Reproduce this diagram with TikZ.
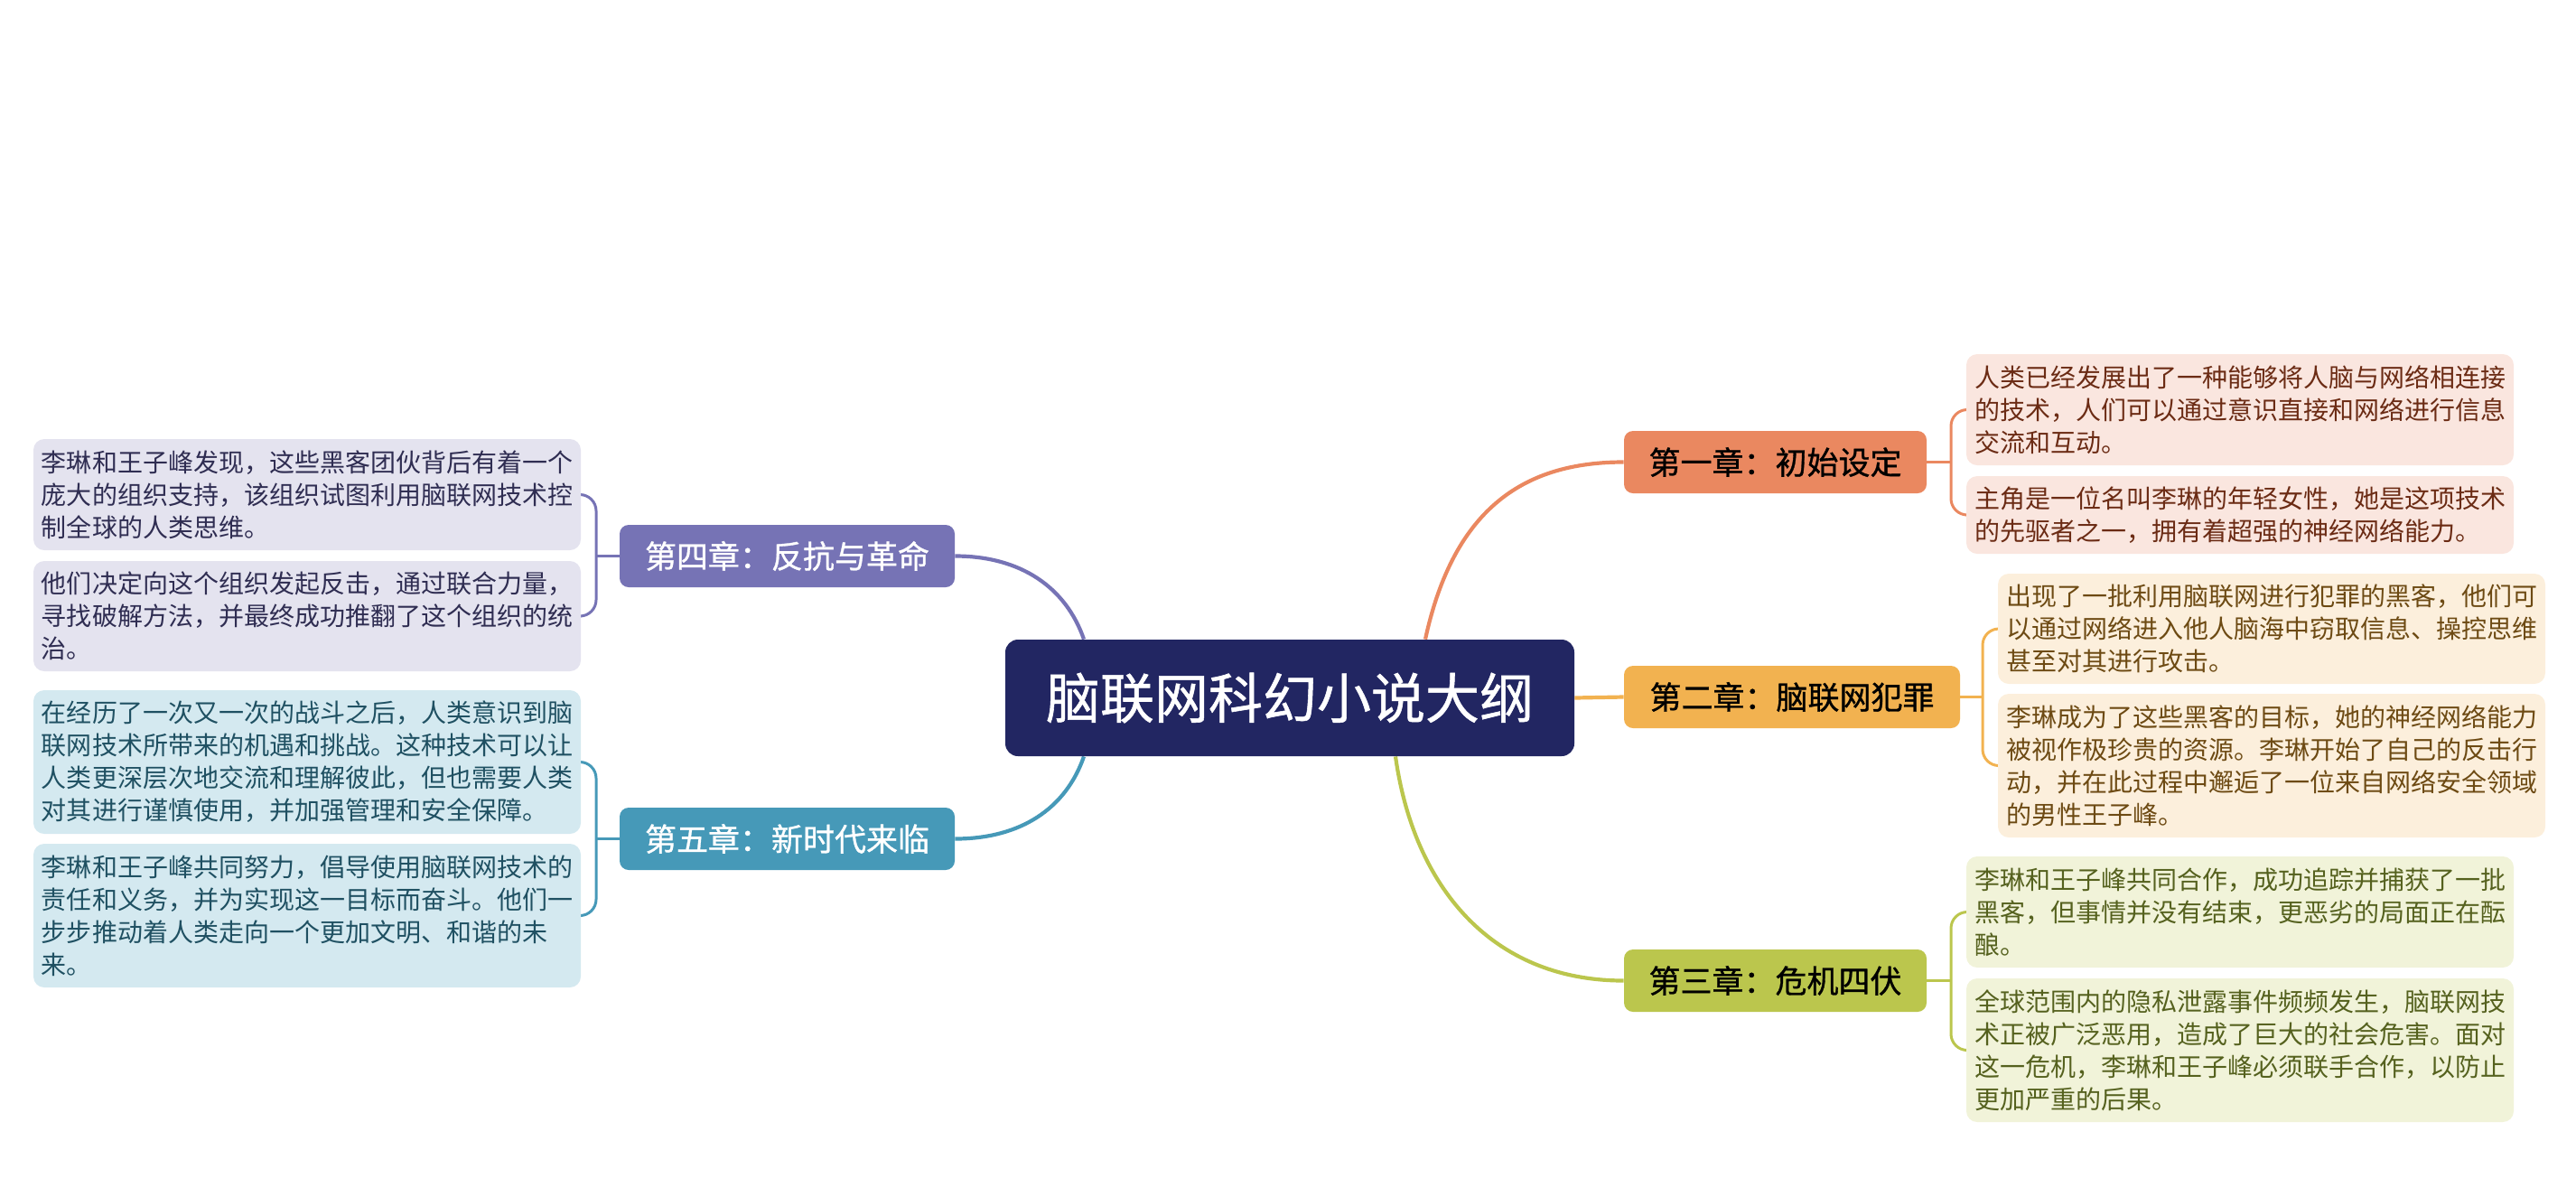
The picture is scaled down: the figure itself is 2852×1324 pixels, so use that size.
\documentclass[tikz,border=0pt]{standalone}
\usepackage{fontspec}
\setmainfont{Noto Sans CJK SC}
\newfontfamily\medfont{Noto Sans CJK SC}[FakeBold=0.9]
\usetikzlibrary{backgrounds}
\definecolor{cCen}{HTML}{222662}
\definecolor{cOne}{HTML}{EA8860}
\definecolor{cTwo}{HTML}{F2B250}
\definecolor{cThr}{HTML}{BBC64D}
\definecolor{cFou}{HTML}{7673B5}
\definecolor{cFiv}{HTML}{4699B8}
\definecolor{fOne}{HTML}{FAE6DF}
\definecolor{fTwo}{HTML}{FCEFDC}
\definecolor{fThr}{HTML}{F1F3D9}
\definecolor{fFou}{HTML}{E4E3EF}
\definecolor{fFiv}{HTML}{D4E9F0}
\definecolor{tOne}{HTML}{6B2B14}
\definecolor{tTwo}{HTML}{6D4A13}
\definecolor{tThr}{HTML}{55611E}
\definecolor{tFou}{HTML}{2F2D52}
\definecolor{tFiv}{HTML}{1F5062}
\tikzset{
  central/.style={fill=cCen, rounded corners=7pt, minimum width=315pt, minimum height=64.5pt,
    text=white, inner sep=0pt, font=\medfont\fontsize{30pt}{36pt}\selectfont},
  chap/.style={rounded corners=5pt, minimum height=34.5pt, inner sep=0pt,
    font=\medfont\fontsize{17.5pt}{21pt}\selectfont},
  leaf/.style={rounded corners=6pt, align=left, text width=294pt, inner xsep=4.5pt,
    inner ysep=0pt, font=\fontsize{14pt}{18pt}\selectfont},
  branch/.style={line width=2.1pt},
  brk/.style={line width=1.5pt, rounded corners=9pt},
}
\begin{document}
\begin{tikzpicture}[x=0.5pt, y=-0.5pt]
\useasboundingbox (0,0) rectangle (2852,1324);
% central
\node[central] (c) at (1428,772.5) {脑联网科幻小说大纲};
% chapters
\node[chap, fill=cOne, minimum width=167.5pt, text=black] (ch1) at (1965.5,511.5) {第一章：初始设定};
\node[chap, fill=cTwo, minimum width=186pt, text=black] (ch2) at (1984,771.5) {第二章：脑联网犯罪};
\node[chap, fill=cThr, minimum width=167.5pt, text=black] (ch3) at (1965.5,1085.5) {第三章：危机四伏};
\node[chap, fill=cFou, minimum width=185.5pt, text=white] (ch4) at (871.5,615.5) {第四章：反抗与革命};
\node[chap, fill=cFiv, minimum width=185.5pt, text=white] (ch5) at (871.5,928.5) {第五章：新时代来临};
% leaves chapter 1
\node[leaf, fill=fOne, text=tOne, minimum height=61.5pt] (l1a) at (2480,453.5)
  {人类已经发展出了一种能够将人脑与网络相连接\\的技术，人们可以通过意识直接和网络进行信息\\交流和互动。};
\node[leaf, fill=fOne, text=tOne, minimum height=43pt] (l1b) at (2480,570)
  {主角是一位名叫李琳的年轻女性，她是这项技术\\的先驱者之一，拥有着超强的神经网络能力。};
% leaves chapter 2
\node[leaf, fill=fTwo, text=tTwo, minimum height=61pt] (l2a) at (2515,696)
  {出现了一批利用脑联网进行犯罪的黑客，他们可\\以通过网络进入他人脑海中窃取信息、操控思维\\甚至对其进行攻击。};
\node[leaf, fill=fTwo, text=tTwo, minimum height=79.5pt] (l2b) at (2515,847.5)
  {李琳成为了这些黑客的目标，她的神经网络能力\\被视作极珍贵的资源。李琳开始了自己的反击行\\动，并在此过程中邂逅了一位来自网络安全领域\\的男性王子峰。};
% leaves chapter 3
\node[leaf, fill=fThr, text=tThr, minimum height=61.5pt] (l3a) at (2480,1009.5)
  {李琳和王子峰共同合作，成功追踪并捕获了一批\\黑客，但事情并没有结束，更恶劣的局面正在酝\\酿。};
\node[leaf, fill=fThr, text=tThr, minimum height=79.5pt] (l3b) at (2480,1162.5)
  {全球范围内的隐私泄露事件频频发生，脑联网技\\术正被广泛恶用，造成了巨大的社会危害。面对\\这一危机，李琳和王子峰必须联手合作，以防止\\更加严重的后果。};
% leaves chapter 4
\node[leaf, fill=fFou, text=tFou, minimum height=61.5pt] (l4a) at (340,547.5)
  {李琳和王子峰发现，这些黑客团伙背后有着一个\\庞大的组织支持，该组织试图利用脑联网技术控\\制全球的人类思维。};
\node[leaf, fill=fFou, text=tFou, minimum height=61pt] (l4b) at (340,682)
  {他们决定向这个组织发起反击，通过联合力量，\\寻找破解方法，并最终成功推翻了这个组织的统\\治。};
% leaves chapter 5
\node[leaf, fill=fFiv, text=tFiv, minimum height=79.5pt] (l5a) at (340,843.5)
  {在经历了一次又一次的战斗之后，人类意识到脑\\联网技术所带来的机遇和挑战。这种技术可以让\\人类更深层次地交流和理解彼此，但也需要人类\\对其进行谨慎使用，并加强管理和安全保障。};
\node[leaf, fill=fFiv, text=tFiv, minimum height=79.5pt] (l5b) at (340,1013.5)
  {李琳和王子峰共同努力，倡导使用脑联网技术的\\责任和义务，并为实现这一目标而奋斗。他们一\\步步推动着人类走向一个更加文明、和谐的未\\来。};
% bracket joints
\coordinate (b1) at (2160,511.5);
\coordinate (b2) at (2195,771.5);
\coordinate (b3) at (2160,1085.5);
\coordinate (b4) at (660,615.5);
\coordinate (b5) at (660,928.5);
\begin{scope}[on background layer]
% branches
\draw[branch, cOne] ([xshift=75pt]c.north) .. controls (1610,560) and (1690,511.5) .. (ch1.west);
\draw[branch, cTwo] (c.east) -- (ch2.west);
\draw[branch, cThr] ([xshift=58.5pt]c.south) .. controls (1565,980) and (1650,1085.5) .. (ch3.west);
\draw[branch, cFou] (ch4.east) .. controls (1130,615.5) and (1180,650) .. ([xshift=-114pt]c.north);
\draw[branch, cFiv] (ch5.east) .. controls (1130,928.5) and (1180,895) .. ([xshift=-114pt]c.south);
% brackets
\draw[brk, cOne] (ch1.east) -- (b1);
\draw[brk, cOne] (l1a.west) -- (l1a.west -| b1) -- (l1b.west -| b1) -- (l1b.west);
\draw[brk, cTwo] (ch2.east) -- (b2);
\draw[brk, cTwo] (l2a.west) -- (l2a.west -| b2) -- (l2b.west -| b2) -- (l2b.west);
\draw[brk, cThr] (ch3.east) -- (b3);
\draw[brk, cThr] (l3a.west) -- (l3a.west -| b3) -- (l3b.west -| b3) -- (l3b.west);
\draw[brk, cFou] (ch4.west) -- (b4);
\draw[brk, cFou] (l4a.east) -- (l4a.east -| b4) -- (l4b.east -| b4) -- (l4b.east);
\draw[brk, cFiv] (ch5.west) -- (b5);
\draw[brk, cFiv] (l5a.east) -- (l5a.east -| b5) -- (l5b.east -| b5) -- (l5b.east);
\end{scope}
\end{tikzpicture}
\end{document}
